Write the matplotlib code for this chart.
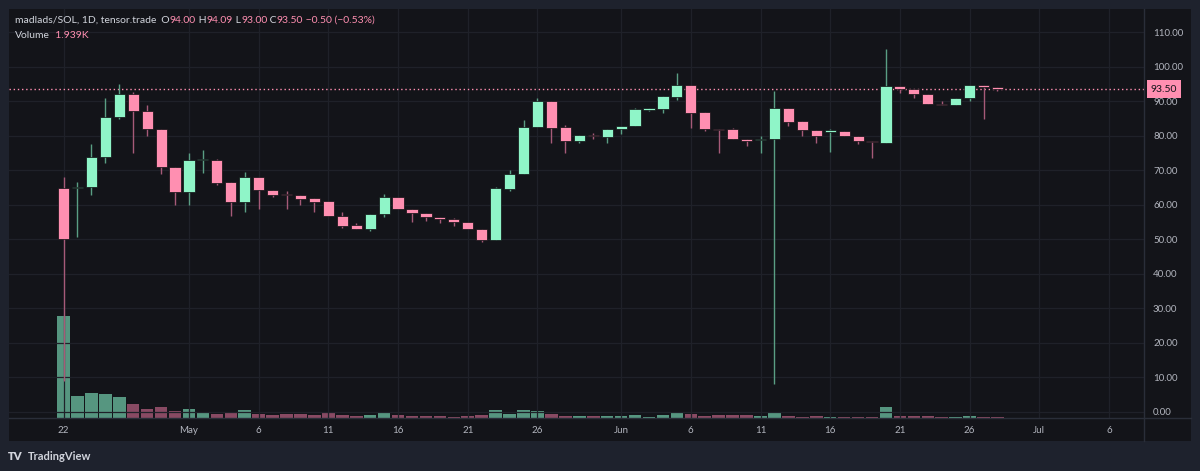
import matplotlib
matplotlib.use("Agg")
import matplotlib.pyplot as plt
from matplotlib.lines import Line2D
from matplotlib.patches import Rectangle

plt.rcParams['font.family'] = ['Lato', 'DejaVu Sans']

# --- data: daily candles from Apr 22 (day 0) ---
opens = [64.8, 64.8, 65.0, 73.9, 85.5, 92.0, 87.1, 82.0, 71.0, 63.7,
         72.9, 73.0, 66.6, 60.9, 67.9, 64.3, 63.2, 62.9, 61.9, 61.0,
         56.8, 54.0, 53.0, 57.3, 62.2, 58.8, 57.6, 56.5, 55.8, 55.0,
         52.9, 49.9, 64.6, 68.8, 82.4, 89.9, 82.4, 78.4, 80.2, 79.7,
         81.9, 82.9, 87.4, 87.8, 91.3, 94.8, 86.9, 82.0, 81.9, 79.0,
         78.6, 79.0, 88.0, 84.1, 81.6, 81.1, 81.3, 79.9, 78.5, 77.9,
         94.3, 93.5, 92.0, 89.3, 88.9, 90.8, 94.8, 94.0]
highs = [68.0, 66.7, 77.6, 90.8, 95.0, 92.6, 89.0, 82.0, 71.0, 75.1,
         75.9, 73.2, 66.6, 69.4, 67.9, 64.3, 64.0, 62.9, 61.9, 61.0,
         57.8, 54.7, 57.4, 63.0, 62.2, 58.8, 57.6, 56.5, 56.1, 55.0,
         52.9, 65.0, 70.0, 84.5, 90.9, 89.9, 83.0, 80.1, 80.9, 82.0,
         82.9, 87.9, 87.9, 91.5, 98.1, 94.8, 86.9, 82.0, 82.1, 79.0,
         80.0, 93.0, 88.0, 84.1, 81.6, 82.0, 81.3, 79.9, 78.5, 105.0,
         94.3, 93.5, 92.0, 90.0, 90.9, 94.8, 94.8, 94.09]
lows = [9.0, 50.7, 62.9, 72.2, 84.9, 74.9, 79.9, 68.9, 59.9, 59.9,
        69.3, 65.8, 56.8, 58.0, 58.8, 62.3, 58.8, 59.9, 57.9, 56.7,
        53.3, 53.0, 52.5, 56.5, 58.7, 54.9, 55.4, 54.8, 53.9, 52.8,
        49.2, 49.9, 64.0, 68.8, 82.4, 77.9, 75.0, 77.9, 79.0, 77.9,
        80.5, 82.9, 87.0, 86.5, 90.3, 82.1, 81.2, 74.9, 79.0, 76.9,
        74.9, 8.0, 82.9, 79.9, 77.9, 75.2, 79.8, 77.7, 73.4, 77.9,
        92.5, 90.9, 89.2, 88.9, 88.9, 89.9, 84.9, 93.0]
closes = [50.0, 65.2, 73.9, 85.5, 92.0, 87.1, 81.9, 70.9, 63.7, 73.0,
          73.3, 66.4, 60.9, 67.9, 64.2, 62.9, 62.8, 61.7, 60.9, 56.7,
          53.9, 53.0, 57.4, 62.2, 58.7, 57.5, 56.4, 55.7, 54.9, 52.8,
          49.9, 64.7, 68.9, 82.5, 90.0, 82.3, 78.5, 80.1, 79.8, 82.0,
          82.9, 87.6, 87.9, 91.5, 94.8, 86.7, 81.9, 81.7, 79.0, 78.4,
          79.0, 88.0, 84.0, 81.6, 80.0, 81.5, 79.8, 78.5, 78.1, 94.3,
          93.5, 92.0, 89.2, 88.9, 90.9, 94.8, 94.0, 93.5]
# volume in thousands
volumes = [198, 42.9, 49.4, 47.5, 41, 28, 17.6, 22.1, 14.3, 17.6,
           9.1, 7.8, 9.1, 15.6, 7.8, 5.2, 7.2, 7.8, 5.9, 9.1,
           6.5, 3.3, 6.5, 9.1, 5.9, 3.9, 3.9, 3.9, 2.6, 3.3,
           6.5, 15.6, 7.8, 15.0, 13.7, 7.8, 3.9, 3.9, 3.3, 3.9,
           3.9, 6.5, 2.6, 5.2, 12.4, 7.8, 3.3, 5.2, 5.2, 5.2,
           3.3, 12.4, 3.9, 2.6, 3.3, 2.0, 1.3, 2.6, 2.0, 20.8,
           3.9, 3.9, 3.9, 2.0, 2.0, 3.9, 2.6, 1.939]
vol_up = [c >= o for o, c in zip(opens, closes)]
vol_up[0] = True  # first bar is drawn green in the source

tick_days = [0, 9, 14, 19, 24, 29, 34, 40, 45, 50, 55, 60, 65, 70, 75]
tick_labels = ['22', 'May', '6', '11', '16', '21', '26', 'Jun', '6', '11',
               '16', '21', '26', 'Jul', '6']
price_ticks = [0, 10, 20, 30, 40, 50, 60, 70, 80, 90, 100, 110]
last_price = 93.50

# --- colours ---
outer_bg = '#1e222d'
panel_bg = '#131419'
grid_c = '#1f2129'
sep_c = '#2a2e39'
text_c = '#b2b5be'
hdr_c = '#d1d4dc'
up_c = '#8ff5c8'
down_c = '#ff8fb1'
up_wick = '#5a9e84'
down_wick = '#a65a78'
up_vol = '#569680'
down_vol = '#884a63'

W, H = 1200, 471
fig = plt.figure(figsize=(W / 100, H / 100), dpi=100)
fig.patch.set_facecolor(outer_bg)


def fx(px):
    return px / W


def fy(py):
    return 1 - py / H


# chart panel
fig.patches.append(Rectangle((fx(9), fy(441)), fx(1191) - fx(9), fy(9) - fy(441),
                             transform=fig.transFigure, facecolor=panel_bg,
                             edgecolor='none', zorder=-10))

ax = fig.add_axes([fx(9), fy(418), fx(1144) - fx(9), fy(9) - fy(418)])
ax2 = ax.twinx()
ax2.set_zorder(ax.get_zorder() - 1)
ax.patch.set_visible(False)
ax2.patch.set_visible(False)

days = list(range(len(opens)))

# volume overlay
ax2.bar(days, volumes, width=0.9,
        color=[up_vol if u else down_vol for u in vol_up], zorder=2)
ax2.set_ylim(0, max(volumes) * 409 / 101.7)
ax2.set_xlim(-3.91, 77.51)
ax2.axis('off')

# grid
for p in price_ticks:
    ax.axhline(p, color=grid_c, lw=0.9, zorder=0)
for d in tick_days:
    ax.axvline(d, color=grid_c, lw=0.9, zorder=0)

# candles
for d, o, h, l, c in zip(days, opens, highs, lows, closes):
    up = c >= o
    ax.vlines(d, l, h, color=up_wick if up else down_wick, lw=1.0, zorder=3)
    body = max(abs(c - o), 0.35)
    ax.bar(d, body, bottom=min(o, c), width=0.8,
           color=up_c if up else down_c, edgecolor='#0d0e11', linewidth=0.5,
           zorder=4)

# last price line
ax.axhline(last_price, color=down_c, lw=1.0, ls=(0, (1, 2)), zorder=2)

ax.set_xlim(-3.91, 77.51)
ax.set_ylim(-1.83, 116.7)
for s in ax.spines.values():
    s.set_visible(False)

ax.set_xticks(tick_days)
ax.set_xticklabels(tick_labels)
ax.yaxis.tick_right()
ax.set_yticks(price_ticks)
ax.set_yticklabels([f'{p:.2f}' for p in price_ticks])
ax.tick_params(axis='both', length=0, colors=text_c, labelsize=7)
ax.tick_params(axis='y', pad=6.5)
ax.tick_params(axis='x', pad=6)
for lab in ax.get_yticklabels():
    lab.set_horizontalalignment('left')

# separators
fig.lines.append(Line2D([fx(9), fx(1191)], [fy(418), fy(418)],
                        transform=fig.transFigure, color=sep_c, lw=1))
fig.lines.append(Line2D([fx(1144), fx(1144)], [fy(9), fy(441)],
                        transform=fig.transFigure, color=sep_c, lw=1))

# price label on the axis
fig.text(fx(1164), fy(89), f'{last_price:.2f}', fontsize=7.5, color='#131419',
         ha='center', va='center',
         bbox=dict(boxstyle='square,pad=0.4', fc=down_c, ec='none'))

# header, pieces chained one after another
hdr = fig.text(fx(15), fy(20.5), 'madlads/SOL, 1D, tensor.trade',
               color=hdr_c, fontsize=7.5, va='center')
pieces = [('  O', hdr_c), ('94.00', down_c), (' H', hdr_c),
          ('94.09', down_c), (' L', hdr_c), ('93.00', down_c),
          (' C', hdr_c), ('93.50', down_c),
          (' \u22120.50 (\u22120.53%)', down_c)]
last = hdr
for t, col in pieces:
    last = ax.annotate(t, xy=(1, 0.5), xycoords=last, va='center', ha='left',
                       color=col, fontsize=7.5, annotation_clip=False)

vol = fig.text(fx(15), fy(36), 'Volume', color=hdr_c, fontsize=7.5, va='center')
ax.annotate('  1.939K', xy=(1, 0.5), xycoords=vol, va='center', ha='left',
            color=down_c, fontsize=7.5, annotation_clip=False)

# footer logo
fig.text(fx(8), fy(456), 'TV', color=hdr_c, fontsize=8, fontweight='heavy',
         va='center')
fig.text(fx(28), fy(456), 'TradingView', color=hdr_c, fontsize=8,
         fontweight='bold', va='center')

fig.savefig('out.png', dpi=100, facecolor=outer_bg)
